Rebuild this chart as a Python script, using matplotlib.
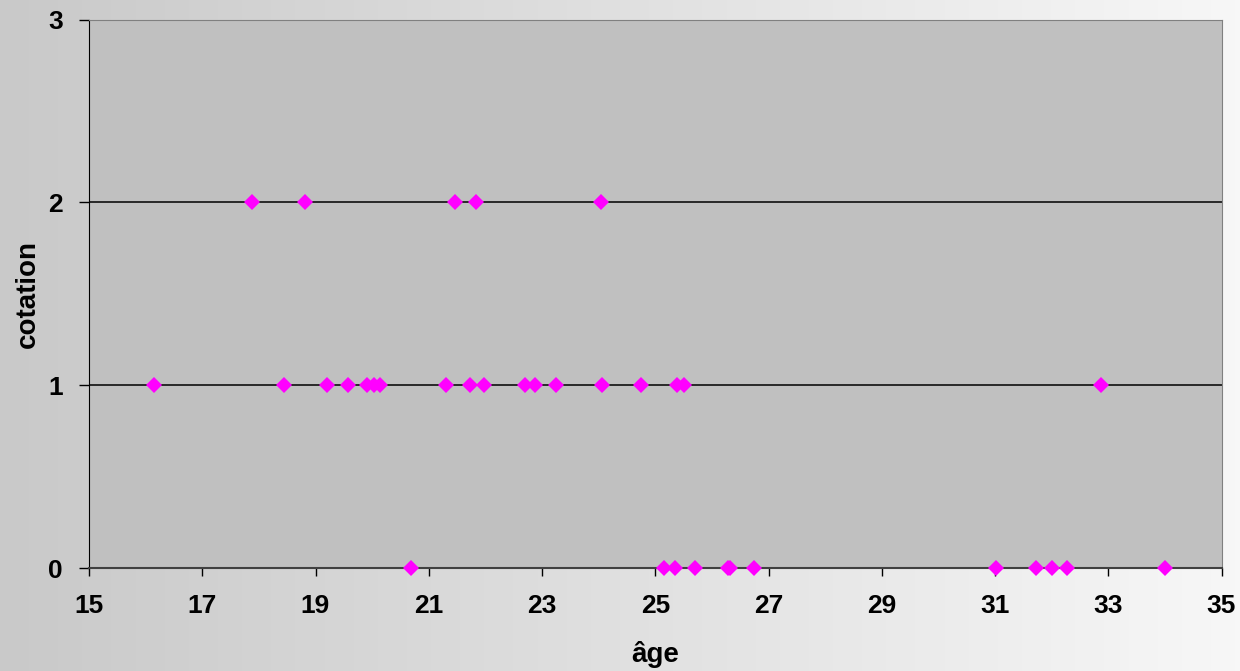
import numpy as np
import matplotlib
matplotlib.use("Agg")
import matplotlib.pyplot as plt
from matplotlib.colors import LinearSegmentedColormap

# valeurs
age = [17.88, 18.82, 21.47, 21.84, 24.04,
       16.15, 18.44, 19.21, 19.57, 19.91, 20.03, 20.14, 21.30, 21.72, 21.97,
       22.70, 22.87, 23.25, 24.06, 24.74, 25.39, 25.51, 32.88,
       20.69, 25.15, 25.35, 25.71, 26.28, 26.32, 26.75, 31.02, 31.73, 32.00,
       32.27, 34.01]
cotation = [2, 2, 2, 2, 2,
            1, 1, 1, 1, 1, 1, 1, 1, 1, 1,
            1, 1, 1, 1, 1, 1, 1, 1,
            0, 0, 0, 0, 0, 0, 0, 0, 0, 0,
            0, 0]
xticks = [15, 17, 19, 21, 23, 25, 27, 29, 31, 33, 35]
yticks = [0, 1, 2, 3]

plt.rcParams['font.family'] = ['Liberation Sans', 'DejaVu Sans']

fig = plt.figure(figsize=(12.4, 6.71), dpi=100)

# fond en dégradé gris -> blanc
bg = fig.add_axes([0, 0, 1, 1], zorder=-10)
cmap = LinearSegmentedColormap.from_list("fond", ["#c9c9c9", "#f7f7f7"])
bg.imshow(np.linspace(0, 1, 256).reshape(1, -1), cmap=cmap, aspect='auto',
          extent=[0, 1, 0, 1])
bg.axis('off')

ax = fig.add_axes([89 / 1240, 103 / 671, 1132.5 / 1240, 548.5 / 671])
ax.set_facecolor("#c0c0c0")

ax.plot(age, cotation, linestyle='none', marker='D', markersize=8.6,
        color='#ff00ff', markeredgewidth=0, zorder=5, clip_on=False)

ax.set_xlim(15, 35)
ax.set_ylim(0, 3)
ax.set_xticks(xticks)
ax.set_yticks(yticks)

for y in [1, 2]:
    ax.axhline(y, color='black', linewidth=1.1, zorder=2)

ax.spines['top'].set_color('#808080')
ax.spines['right'].set_color('#808080')
ax.spines['left'].set_color('black')
ax.spines['bottom'].set_color('#404040')
ax.spines['bottom'].set_linewidth(1.5)

ax.tick_params(axis='x', direction='out', length=6, width=1, pad=13,
               labelsize=19, colors='black')
ax.tick_params(axis='y', direction='out', length=7, width=1, pad=12,
               labelsize=19, colors='black')
for lab in ax.get_xticklabels() + ax.get_yticklabels():
    lab.set_fontweight('bold')

ax.set_xlabel("âge", fontsize=20, fontweight='bold', va='center')
ax.set_ylabel("cotation", fontsize=20, fontweight='bold', va='center')
ax.xaxis.set_label_coords(0.5, -87 / 548.5)
ax.yaxis.set_label_coords(-61 / 1132.5, 0.5)

fig.savefig("out.png", dpi=100)
